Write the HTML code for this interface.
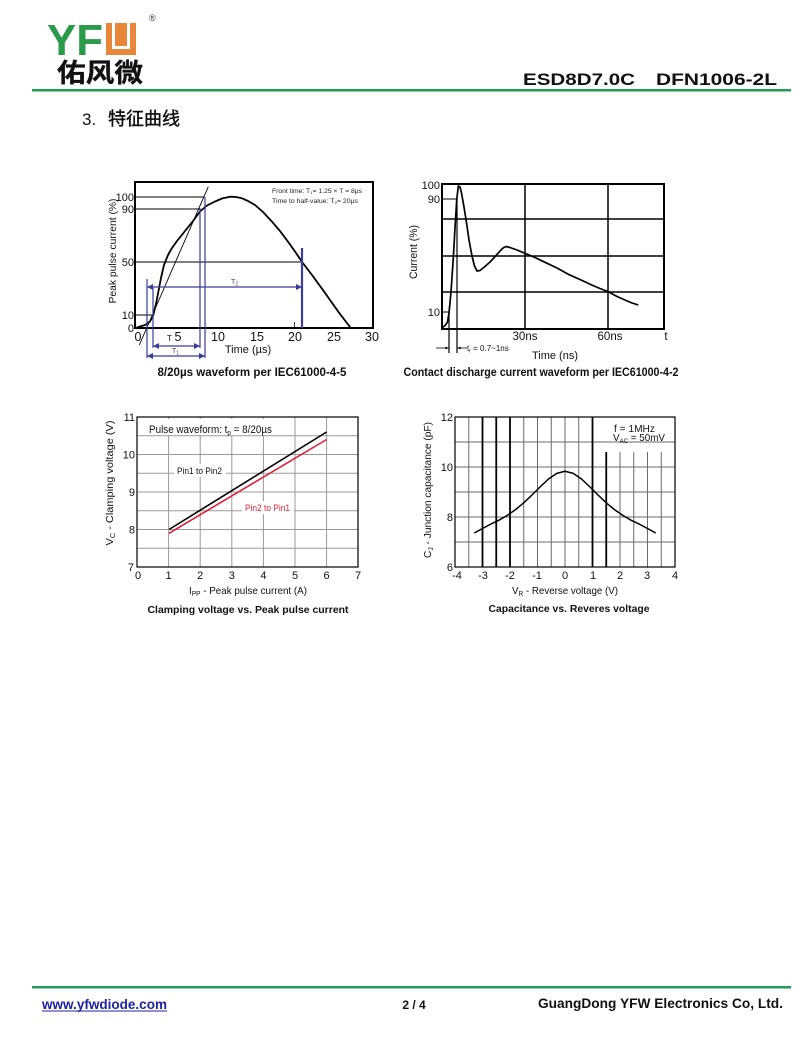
<!DOCTYPE html>
<html>
<head>
<meta charset="utf-8">
<style>
html,body{margin:0;padding:0;background:#fff;}
body{width:800px;height:1046px;overflow:hidden;}
svg{display:block;}
text{font-family:"Liberation Sans",Arial,sans-serif;}
.cjk{font-family:"Liberation Sans","Noto Sans CJK SC",sans-serif;}
</style>
</head>
<body>
<svg width="800" height="1046" viewBox="0 0 800 1046" xmlns="http://www.w3.org/2000/svg">
<defs>
<marker id="ar" viewBox="0 0 6 6" refX="6" refY="3" markerWidth="5" markerHeight="5" orient="auto-start-reverse">
<path d="M0,0 L6,3 L0,6 z" fill="#3c3c9a"/>
</marker>
<marker id="ak" viewBox="0 0 6 6" refX="6" refY="3" markerWidth="4" markerHeight="4" orient="auto-start-reverse">
<path d="M0,0 L6,3 L0,6 z" fill="#000"/>
</marker>
</defs>

<!-- HEADER -->
<text x="47" y="55" font-size="44" font-weight="bold" fill="#2b9a4a" textLength="56" lengthAdjust="spacingAndGlyphs">YF</text>
<rect x="106" y="23" width="30" height="32" fill="#e8873a"/>
<path d="M113.5 22 V47.5 H128.5 V22" fill="none" stroke="#fff" stroke-width="3"/>
<text x="149" y="21" font-size="9" fill="#333">®</text>
<text x="57" y="82" class="cjk" font-size="26" font-weight="bold" fill="#111" stroke="#111" stroke-width="0.3" textLength="86" lengthAdjust="spacingAndGlyphs">佑风微</text>
<rect x="32" y="89" width="759" height="2.5" fill="#1f9d55"/>
<text x="523" y="85" font-size="16.5" font-weight="bold" fill="#111" textLength="112" lengthAdjust="spacingAndGlyphs">ESD8D7.0C</text>
<text x="656" y="85" font-size="16.5" font-weight="bold" fill="#111" textLength="121" lengthAdjust="spacingAndGlyphs">DFN1006-2L</text>
<text x="82" y="125" font-size="17" fill="#111">3.</text>
<text x="108" y="125" class="cjk" font-size="18" fill="#111" stroke="#111" stroke-width="0.45" textLength="72" lengthAdjust="spacingAndGlyphs">特征曲线</text>

<!-- CHART 1 -->
<rect x="135" y="182" width="238" height="146" fill="none" stroke="#000" stroke-width="2"/>
<g stroke="#000" stroke-width="0.9" fill="none">
<path d="M135 197 H204 M135 209 H200 M135 262 H302 M135 315 H153"/>
<path d="M139.3 345 L208.3 186.7"/>
</g>
<polyline fill="none" stroke="#000" stroke-width="1.8" stroke-linejoin="round" points="136,328 140,326.5 145,325 150,321.5 153.3,315 156,304 158.5,291 161,278 164,265 168,255 172,248 177,241 185,231 193,221 200,211.5 207,205.5 215,201.5 222,198.5 230,196.7 236,197 242,198.3 248,201 255,205 263,212 272,221.7 280,231 288,241.7 295,251.5 302.3,262.3 312,275 321.7,288.3 330,300 338.3,311.7 345,320.5 351,328.3"/>
<g stroke="#3c3c9a" stroke-width="1.2" fill="none">
<path d="M147 279 V358 M153 288 V348 M200 208 V348 M205 197 V358"/>
<path d="M302 248 V328" stroke-width="2.2"/>
<path d="M147 287 H302" marker-start="url(#ar)" marker-end="url(#ar)"/>
<path d="M147 356 H205" marker-start="url(#ar)" marker-end="url(#ar)"/>
<path d="M153 346 H200" marker-start="url(#ar)" marker-end="url(#ar)"/>
<path d="M294.5 322 V327" stroke="#000" stroke-width="0.8"/>
</g>
<text x="231" y="284" font-size="7" fill="#3c3c9a">T<tspan font-size="5" dy="1.5">2</tspan></text>
<text x="172" y="353" font-size="7" fill="#3c3c9a">T<tspan font-size="5" dy="1.5">1</tspan></text>
<text x="167" y="341" font-size="8" fill="#111">T</text>
<text x="272" y="193" font-size="6" fill="#222" textLength="90" lengthAdjust="spacingAndGlyphs">Front time: T<tspan font-size="4" dy="1">1</tspan><tspan dy="-1">= 1.25 × T = 8µs</tspan></text>
<text x="272" y="203" font-size="6" fill="#222" textLength="86" lengthAdjust="spacingAndGlyphs">Time to half-value: T<tspan font-size="4" dy="1">2</tspan><tspan dy="-1">= 20µs</tspan></text>
<g font-size="11" fill="#111" text-anchor="end">
<text x="134" y="201">100</text>
<text x="134" y="213">90</text>
<text x="134" y="266">50</text>
<text x="134" y="319">10</text>
<text x="134" y="332">0</text>
</g>
<g font-size="12.5" fill="#111" text-anchor="middle">
<text x="138" y="341">0</text>
<text x="178" y="341">5</text>
<text x="218" y="341">10</text>
<text x="257" y="341">15</text>
<text x="295" y="341">20</text>
<text x="334" y="341">25</text>
<text x="372" y="341">30</text>
</g>
<text x="248" y="353" font-size="11" fill="#111" text-anchor="middle">Time (µs)</text>
<text transform="translate(116,251) rotate(-90)" font-size="10.5" fill="#111" text-anchor="middle" textLength="105" lengthAdjust="spacingAndGlyphs">Peak pulse current (%)</text>
<text x="252" y="376" font-size="11.5" font-weight="bold" fill="#111" text-anchor="middle" textLength="189" lengthAdjust="spacingAndGlyphs">8/20µs waveform per IEC61000-4-5</text>

<!-- CHART 2 -->
<g stroke="#000" fill="none">
<path d="M525 184 V329 M608 184 V329 M442 219 H664 M442 256 H664 M442 292 H664" stroke-width="1.5"/>
<rect x="442" y="184" width="222" height="145" stroke-width="2"/>
<path d="M442 199 H457 M442 312 H449" stroke-width="1"/>
<path d="M449 312 V353 M457 199 V353" stroke-width="1.2"/>
<path d="M436 348 H448.5" stroke-width="0.8" marker-end="url(#ak)"/>
<path d="M467 348 H457.5" stroke-width="0.8" marker-end="url(#ak)"/>
</g>
<polyline fill="none" stroke="#000" stroke-width="1.7" stroke-linejoin="round" points="442,328 445,325.5 447.5,322 449,313 451,292 453.3,258 455,228 456.7,200 458.3,186 460,187 461.5,193 464,207 466.7,224 469,240 472,256 474.5,266 477,271 480,270.5 485,266.5 490,262 495,256.7 500,251 503,248 506,246.5 510,247.5 517,250 525,253.3 535,257.5 545,262.3 557,268 568.3,274.3 580,279.5 591.7,285 600,288.5 608.3,291.7 617,296.5 625,300 632,303 638.3,305"/>
<g font-size="11" fill="#111" text-anchor="end">
<text x="440" y="189">100</text>
<text x="440" y="203">90</text>
<text x="440" y="316">10</text>
</g>
<g font-size="11.5" fill="#111" text-anchor="middle">
<text x="525" y="340">30ns</text>
<text x="610" y="340">60ns</text>
<text x="666" y="340">t</text>
</g>
<text x="467" y="351" font-size="8" fill="#111">t<tspan font-size="5" dy="1.5">r</tspan><tspan dy="-1.5"> = 0.7~1ns</tspan></text>
<text x="555" y="359" font-size="11" fill="#111" text-anchor="middle">Time (ns)</text>
<text transform="translate(417,252) rotate(-90)" font-size="11" fill="#111" text-anchor="middle" textLength="54" lengthAdjust="spacingAndGlyphs">Current (%)</text>
<text x="541" y="376" font-size="11.5" font-weight="bold" fill="#111" text-anchor="middle" textLength="275" lengthAdjust="spacingAndGlyphs">Contact discharge current waveform per IEC61000-4-2</text>

<!-- CHART 3 -->
<g stroke="#9a9a9a" stroke-width="1" fill="none">
<path d="M168.6 417 V567 M200.2 417 V567 M231.8 417 V567 M263.4 417 V567 M295 417 V567 M326.6 417 V567"/>
<path d="M137 548.25 H358 M137 529.5 H358 M137 510.75 H358 M137 492 H358 M137 473.25 H358 M137 454.5 H358 M137 435.75 H358"/>
</g>
<rect x="140" y="419" width="136" height="16" fill="#fff"/>
<rect x="174" y="464" width="52" height="13" fill="#fff"/>
<rect x="242" y="501" width="52" height="13" fill="#fff"/>
<rect x="137" y="417" width="221" height="150" fill="none" stroke="#000" stroke-width="1.2"/>
<path d="M169 529.5 L326.6 432" stroke="#000" stroke-width="1.6"/>
<path d="M169 533.3 L326.6 439.5" stroke="#e0203a" stroke-width="1.6"/>
<text x="149" y="433" font-size="11" fill="#111" textLength="123" lengthAdjust="spacingAndGlyphs">Pulse waveform: t<tspan font-size="7" dy="2">p</tspan><tspan dy="-2"> = 8/20µs</tspan></text>
<text x="177" y="474" font-size="9" fill="#111" textLength="45" lengthAdjust="spacingAndGlyphs">Pin1 to Pin2</text>
<text x="245" y="511" font-size="9" fill="#e0203a" textLength="45" lengthAdjust="spacingAndGlyphs">Pin2 to Pin1</text>
<g font-size="11" fill="#111" text-anchor="end">
<text x="135" y="421">11</text>
<text x="135" y="458.5">10</text>
<text x="135" y="496">9</text>
<text x="135" y="533.5">8</text>
<text x="134" y="571">7</text>
</g>
<g font-size="11" fill="#111" text-anchor="middle">
<text x="138" y="579">0</text>
<text x="168.6" y="579">1</text>
<text x="200.2" y="579">2</text>
<text x="231.8" y="579">3</text>
<text x="263.4" y="579">4</text>
<text x="295" y="579">5</text>
<text x="326.6" y="579">6</text>
<text x="358" y="579">7</text>
</g>
<text x="248" y="594" font-size="10.5" fill="#111" text-anchor="middle" textLength="118" lengthAdjust="spacingAndGlyphs">I<tspan font-size="7" dy="2">PP</tspan><tspan dy="-2"> - Peak pulse current (A)</tspan></text>
<text transform="translate(113,483) rotate(-90)" font-size="10.5" fill="#111" text-anchor="middle" textLength="125" lengthAdjust="spacingAndGlyphs">V<tspan font-size="7" dy="2">C</tspan><tspan dy="-2"> - Clamping voltage (V)</tspan></text>
<text x="248" y="613" font-size="10.5" font-weight="bold" fill="#111" text-anchor="middle" textLength="201" lengthAdjust="spacingAndGlyphs">Clamping voltage vs. Peak pulse current</text>

<!-- CHART 4 -->
<g stroke="#6a6a6a" stroke-width="1" fill="none">
<path d="M455 442 H675 M455 467 H675 M455 492 H675 M455 517 H675 M455 542 H675"/>
<path d="M468.75 417 V567 M523.75 417 V567 M537.5 417 V567 M551.25 417 V567 M565 417 V567 M578.75 417 V567"/>
<path d="M620 452 V567 M633.75 452 V567 M647.5 452 V567 M661.25 452 V567"/>
</g>
<g stroke="#000" stroke-width="1.8" fill="none">
<path d="M482.5 417 V567 M496.25 417 V567 M510 417 V567 M592.5 417 V567 M606.25 452 V567"/>
</g>
<rect x="455" y="417" width="220" height="150" fill="none" stroke="#000" stroke-width="1.2"/>
<polyline fill="none" stroke="#000" stroke-width="1.5" stroke-linejoin="round" points="474.25,533 482.5,528.5 490.75,524.1 499,520.2 507.25,515.4 515.5,509.65 523.75,502.8 532,495 540.25,486.75 548.5,479 556.75,473.4 565,471.25 573.25,473.4 581.5,479 589.75,486.75 598,495 606.25,502.8 614.5,509.65 622.75,515.4 631,520.2 639.25,524.1 647.5,528.5 655.75,533"/>
<text x="614" y="432" font-size="10.5" fill="#111" textLength="41" lengthAdjust="spacingAndGlyphs">f = 1MHz</text>
<text x="613" y="441" font-size="10.5" fill="#111" textLength="52" lengthAdjust="spacingAndGlyphs">V<tspan font-size="6.5" dy="2">AC</tspan><tspan dy="-2"> = 50mV</tspan></text>
<g font-size="11" fill="#111" text-anchor="end">
<text x="453" y="421">12</text>
<text x="453" y="471">10</text>
<text x="453" y="521">8</text>
<text x="453" y="571">6</text>
</g>
<g font-size="11" fill="#111" text-anchor="middle">
<text x="457" y="579">-4</text>
<text x="483" y="579">-3</text>
<text x="510" y="579">-2</text>
<text x="537" y="579">-1</text>
<text x="565" y="579">0</text>
<text x="593" y="579">1</text>
<text x="620" y="579">2</text>
<text x="647" y="579">3</text>
<text x="675" y="579">4</text>
</g>
<text x="565" y="594" font-size="10.5" fill="#111" text-anchor="middle" textLength="106" lengthAdjust="spacingAndGlyphs">V<tspan font-size="7" dy="2">R</tspan><tspan dy="-2"> - Reverse voltage (V)</tspan></text>
<text transform="translate(431,490) rotate(-90)" font-size="10.5" fill="#111" text-anchor="middle" textLength="136" lengthAdjust="spacingAndGlyphs">C<tspan font-size="7" dy="2">J</tspan><tspan dy="-2"> - Junction capacitance (pF)</tspan></text>
<text x="569" y="612" font-size="10.5" font-weight="bold" fill="#111" text-anchor="middle" textLength="161" lengthAdjust="spacingAndGlyphs">Capacitance vs. Reveres voltage</text>

<!-- FOOTER -->
<rect x="32" y="986" width="759" height="2.5" fill="#1f9d55"/>
<text x="42" y="1009" font-size="13.5" font-weight="bold" fill="#1e22a0" textLength="125" lengthAdjust="spacingAndGlyphs">www.yfwdiode.com</text>
<rect x="42" y="1010.5" width="125" height="1" fill="#1e22a0"/>
<text x="414" y="1009" font-size="12" font-weight="bold" fill="#111" text-anchor="middle">2 / 4</text>
<text x="783" y="1008" font-size="13.5" font-weight="bold" fill="#111" text-anchor="end" textLength="245" lengthAdjust="spacingAndGlyphs">GuangDong YFW Electronics Co, Ltd.</text>
</svg>
</body>
</html>
